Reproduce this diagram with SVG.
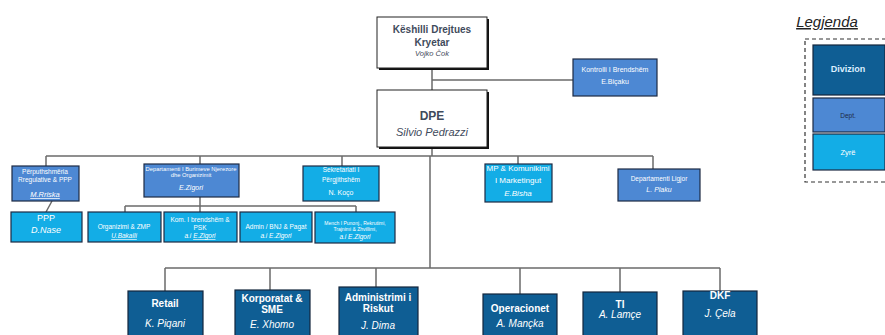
<svg xmlns="http://www.w3.org/2000/svg" width="885" height="335" viewBox="0 0 885 335">
<style>
text{font-family:"Liberation Sans",Arial,sans-serif;text-anchor:middle}
.w{fill:#fff}
.div{fill:#0f5e94;stroke:#13263d;stroke-width:1.2}
.dep{fill:#4d88d3;stroke:#1d2a44;stroke-width:1.2}
.zy{fill:#13ade6;stroke:#1d2a44;stroke-width:1.2}
.top{fill:#fff;stroke:#222;stroke-width:1}
.sh{fill:#111}
.ln{stroke:#6b6b6b;stroke-width:1.5;fill:none}
.it{font-style:italic}
.b{font-weight:bold}
</style>
<rect width="885" height="335" fill="#fff"/>
<g id="connectors" class="ln">
<path d="M432 68V90M432 80H573M432 147V156M46 156H653M430 156V268M165 268H720"/>
<path d="M46 156V166M200 156V164M342 156V166M518 156V164M653 156V169"/>
<path d="M52 201L46 212M200 197V206M125 206H356M125 206V212M200 206V212M356 206V212"/>
<path d="M165 268V291M270 268V290M376 268V287M520 268V294M620 268V292M720 268V291"/>
</g>
<g id="n_keshilli">
<rect class="sh" x="379" y="19" width="110" height="51"/>
<rect class="top" x="377" y="17" width="110" height="51"/>
<text x="432" y="33" font-size="10" class="b" fill="#3f4b5c">Këshilli Drejtues</text>
<text x="432" y="46" font-size="10" class="b" fill="#3f4b5c">Kryetar</text>
<text x="432" y="56" font-size="7.5" class="it" fill="#3f4b5c">Vojko Čok</text>
</g>
<g id="n_kontrolli">
<rect class="dep" x="573" y="59" width="84" height="37"/>
<text x="615" y="72" font-size="7" class="w">Kontrolli I Brendshëm</text>
<text x="615" y="84" font-size="7" class="w">E.Biçaku</text>
</g>
<g id="n_dpe">
<rect class="sh" x="379" y="92" width="110" height="57"/>
<rect class="top" x="377" y="90" width="110" height="57"/>
<text x="432" y="120" font-size="12" class="b" fill="#3f4b5c">DPE</text>
<text x="432" y="136" font-size="11" class="it" fill="#3f4b5c">Silvio Pedrazzi</text>
</g>
<g id="n_perputh">
<rect class="dep" x="12" y="166" width="67" height="35"/>
<text x="45" y="174" font-size="6.5" class="w">Përputhshmëria</text>
<text x="45" y="182" font-size="6.5" class="w">Rregulative &amp; PPP</text>
<text x="45" y="197" font-size="7.5" class="w it" text-decoration="underline">M.Rriska</text>
</g>
<g id="n_burime">
<rect class="dep" x="144" y="164" width="95" height="33"/>
<text x="191" y="171" font-size="5.8" class="w">Departamenti I Burimeve Njerezore</text>
<text x="191" y="177" font-size="5.8" class="w">dhe Organizimit</text>
<text x="191" y="190" font-size="7" class="w it">E.Zigori</text>
</g>
<g id="n_sekretariati">
<rect class="zy" x="303" y="166" width="76" height="35"/>
<text x="341" y="172" font-size="6.5" class="w">Sekretariati I</text>
<text x="341" y="182" font-size="6.5" class="w">Përgjithshëm</text>
<text x="341" y="195" font-size="7" class="w">N. Koço</text>
</g>
<g id="n_mp">
<rect class="zy" x="485" y="164" width="67" height="38"/>
<text x="518" y="171" font-size="8" class="w">MP &amp; Komunikimi</text>
<text x="518" y="183" font-size="8" class="w">I Marketingut</text>
<text x="518" y="196" font-size="8" class="w it">E.Bisha</text>
</g>
<g id="n_ligjor">
<rect class="dep" x="618" y="169" width="82" height="32"/>
<text x="659" y="181" font-size="6.5" class="w">Departamenti Ligjor</text>
<text x="659" y="192" font-size="7" class="w it">L. Plaku</text>
</g>
<g id="n_ppp">
<rect class="zy" x="11" y="212" width="71" height="30"/>
<text x="46" y="221" font-size="9" class="w">PPP</text>
<text x="46" y="233" font-size="9" class="w it">D.Nase</text>
</g>
<g id="n_organizimi">
<rect class="zy" x="88" y="212" width="73" height="30"/>
<text x="124" y="229" font-size="6.5" class="w">Organizimi &amp; ZMP</text>
<text x="124" y="238" font-size="6.5" class="w it" text-decoration="underline">U.Bakalli</text>
</g>
<g id="n_kom">
<rect class="zy" x="164" y="212" width="73" height="30"/>
<text x="200" y="222" font-size="6.5" class="w">Kom. I brendshëm &amp;</text>
<text x="200" y="230" font-size="6.5" class="w">PSK</text>
<text x="200" y="238" font-size="6.5" class="w it">a.i  <tspan text-decoration="underline">E.Zigori</tspan></text>
</g>
<g id="n_admin">
<rect class="zy" x="240" y="212" width="72" height="30"/>
<text x="276" y="229" font-size="6.5" class="w">Admin / BNJ &amp; Pagat</text>
<text x="276" y="238" font-size="6.5" class="w it">a.i  E.Zigori</text>
</g>
<g id="n_mench">
<rect class="zy" x="315" y="212" width="80" height="31"/>
<text x="355" y="225" font-size="5" class="w">Mench I Punonj., Rekrutimi,</text>
<text x="355" y="231" font-size="5" class="w">Trajnimi &amp; Zhvillimi,</text>
<text x="355" y="239" font-size="6.5" class="w it">a.i  E.Zigori</text>
</g>
<g id="n_retail">
<rect class="div" x="128" y="291" width="75" height="50"/>
<text x="165" y="307" font-size="10" class="w b">Retail</text>
<text x="165" y="327" font-size="10" class="w it">K. Piqani</text>
</g>
<g id="n_korporatat">
<rect class="div" x="235" y="290" width="75" height="51"/>
<text x="272" y="302" font-size="10" class="w b">Korporatat &amp;</text>
<text x="272" y="313" font-size="10" class="w b">SME</text>
<text x="272" y="328" font-size="10" class="w it">E. Xhomo</text>
</g>
<g id="n_administrimi">
<rect class="div" x="339" y="287" width="79" height="54"/>
<text x="378" y="301" font-size="10" class="w b">Administrimi i</text>
<text x="378" y="312" font-size="10" class="w b">Riskut</text>
<text x="378" y="329" font-size="10" class="w it">J. Dima</text>
</g>
<g id="n_operacionet">
<rect class="div" x="483" y="294" width="74" height="47"/>
<text x="520" y="312" font-size="10" class="w b">Operacionet</text>
<text x="520" y="327" font-size="10" class="w it">A. Mançka</text>
</g>
<g id="n_ti">
<rect class="div" x="583" y="292" width="74" height="49"/>
<text x="620" y="308" font-size="10" class="w b">TI</text>
<text x="620" y="318" font-size="10" class="w it">A. Lamçe</text>
</g>
<g id="n_dkf">
<rect class="div" x="683" y="291" width="74" height="50"/>
<text x="720" y="299" font-size="10" class="w b">DKF</text>
<text x="720" y="317" font-size="10" class="w it">J. Çela</text>
</g>
<g id="legend">
<text x="827" y="27" font-size="15" class="it" fill="#222" text-decoration="underline">Legjenda</text>
<rect x="805" y="39" width="84" height="143" fill="#fff" stroke="#333" stroke-width="1.2" stroke-dasharray="4,3"/>
<rect class="div" x="813" y="45" width="72" height="50"/>
<text x="848" y="72" font-size="9" class="b" fill="#dcefff">Divizion</text>
<rect class="dep" x="813" y="98" width="72" height="34"/>
<text x="848" y="118" font-size="6.5" fill="#1d2a44">Dept.</text>
<rect class="zy" x="813" y="134" width="72" height="36"/>
<text x="848" y="155" font-size="7.5" class="w">Zyrë</text>
</g>
</svg>
